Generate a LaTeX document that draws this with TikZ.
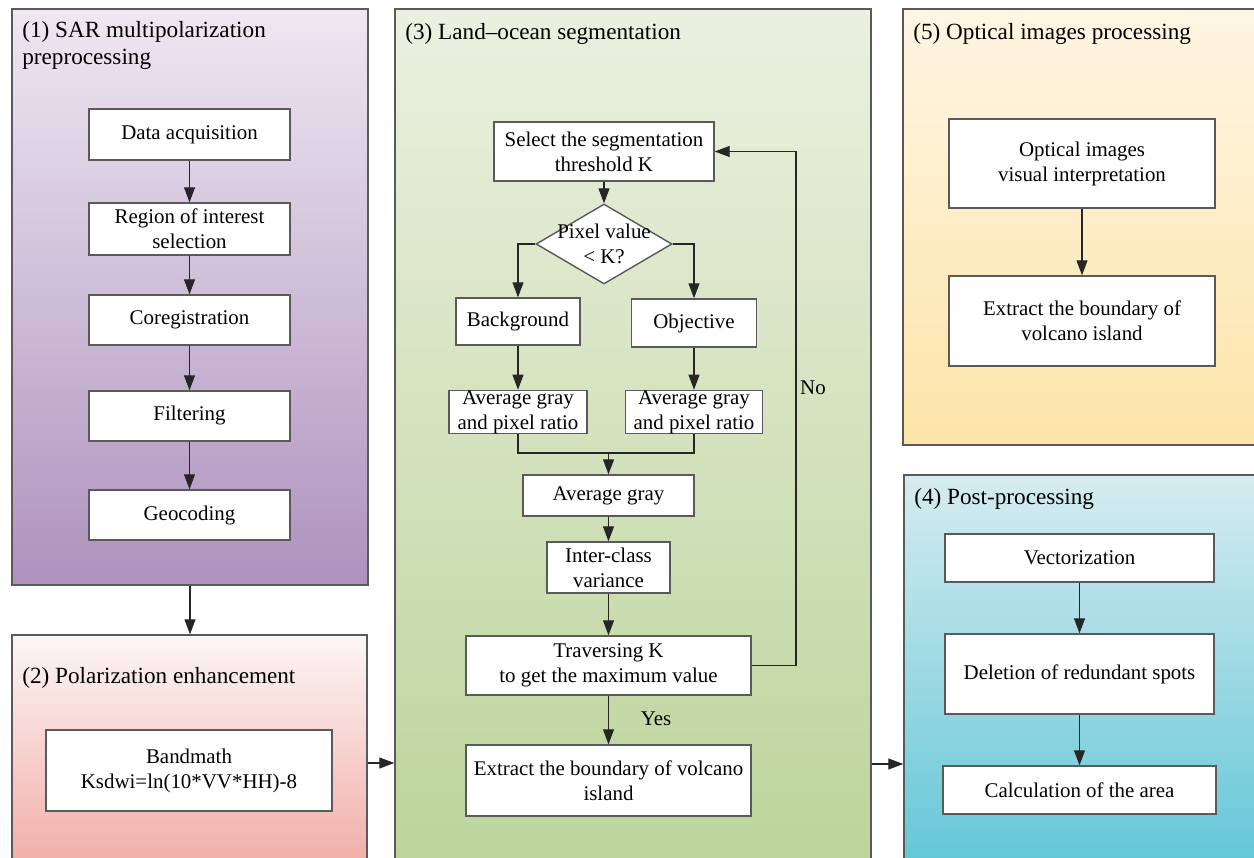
\documentclass[tikz,border=0pt]{standalone}
\usepackage{fontspec}
\setmainfont{Liberation Serif}
\usetikzlibrary{arrows.meta,shapes.geometric}
\definecolor{pOneT}{HTML}{EEE8F2}
\definecolor{pOneB}{HTML}{AE92BE}
\definecolor{pTwoT}{HTML}{FCF6F6}
\definecolor{pTwoB}{HTML}{F1ACA6}
\definecolor{pThrT}{HTML}{EBF0E0}
\definecolor{pThrB}{HTML}{BCD49B}
\definecolor{pFivT}{HTML}{FEF5E3}
\definecolor{pFivB}{HTML}{FDE4A8}
\definecolor{pFouT}{HTML}{D6ECF0}
\definecolor{pFouB}{HTML}{62C6D7}
\definecolor{edge}{HTML}{5A5A5A}
\def\px{0.02cm}
\tikzset{
  panel/.style={draw=edge, line width=0.8pt, inner sep=0pt},
  ptitle/.style={inner sep=0pt, font=\fontsize{13.2}{15.2}\selectfont, align=left},
  stepbox/.style={draw=edge, line width=0.8pt, fill=white, inner sep=0pt, align=center,
    font=\fontsize{11.9}{14.2}\selectfont},
  decbox/.style={draw=edge, line width=0.8pt, fill=white, diamond, inner sep=0pt},
  arr/.style={draw=black!85, line width=0.6pt, -{Triangle[length=0.3cm,width=0.22cm]}},
  ln/.style={draw=black!85, line width=0.6pt},
  lbl/.style={inner sep=0pt, font=\fontsize{11.9}{14.2}\selectfont}
}
\begin{document}
\begin{tikzpicture}[x=0.02cm,y=-0.02cm]
\useasboundingbox (0,0) rectangle (1254,858);
\clip (0,0) rectangle (1254,858);
\fill[white] (0,0) rectangle (1254,858);

% panels
\node[panel, top color=pOneT, bottom color=pOneB, minimum width=356*\px, minimum height=576*\px] (p1) at (190,297) {};
\node[panel, top color=pTwoT, bottom color=pTwoB, minimum width=355*\px, minimum height=235*\px] (p2) at (189.5,752.5) {};
\node[panel, top color=pThrT, bottom color=pThrB, minimum width=476*\px, minimum height=861*\px] (p3) at (633,439.5) {};
\node[panel, top color=pFivT, bottom color=pFivB, minimum width=362*\px, minimum height=436*\px] (p5) at (1084,227) {};
\node[panel, top color=pFouT, bottom color=pFouB, minimum width=361*\px, minimum height=395*\px] (p4) at (1084.5,672.5) {};

% titles
\node[ptitle, anchor=north west] (t1) at (22,21) {(1) SAR multipolarization\\preprocessing};
\node[ptitle, anchor=base west] (t2) at (22,683) {(2) Polarization enhancement};
\node[ptitle, anchor=base west] (t3) at (405,40) {(3) Land--ocean segmentation};
\node[ptitle, anchor=base west] (t5) at (913,40) {(5) Optical images processing};
\node[ptitle, anchor=base west] (t4) at (914,504) {(4) Post-processing};

% panel 1
\node[stepbox, minimum width=201*\px, minimum height=51*\px] (da) at (189.5,134.5) {Data acquisition};
\node[stepbox, minimum width=201*\px, minimum height=52*\px] (roi) at (189.5,229) {Region of interest\\selection};
\node[stepbox, minimum width=201*\px, minimum height=50*\px] (cor) at (189.5,320) {Coregistration};
\node[stepbox, minimum width=201*\px, minimum height=50*\px] (fil) at (189.5,416) {Filtering};
\node[stepbox, minimum width=201*\px, minimum height=50*\px] (geo) at (189.5,515) {Geocoding};
\draw[arr] (da) -- (roi);
\draw[arr] (roi) -- (cor);
\draw[arr] (cor) -- (fil);
\draw[arr] (fil) -- (geo);

% panel 2
\node[stepbox, minimum width=286*\px, minimum height=81*\px] (bm) at (189,770.5) {Bandmath\\Ksdwi=ln(10*VV*HH)-8};

% panel 3
\node[stepbox, minimum width=220*\px, minimum height=59*\px] (sel) at (604,151.5) {Select the segmentation\\threshold K};
\node[decbox, minimum width=136*\px, minimum height=80*\px,
  label={[lbl, align=center]center:Pixel value\\< K?}] (dia) at (604,244) {};
\node[stepbox, minimum width=124*\px, minimum height=47*\px] (bg) at (518,321.5) {Background};
\node[stepbox, minimum width=125*\px, minimum height=48*\px] (obj) at (694,323) {Objective};
\node[stepbox, minimum width=138*\px, minimum height=42*\px] (avgL) at (518,412) {Average gray\\and pixel ratio};
\node[stepbox, minimum width=137*\px, minimum height=42*\px] (avgR) at (694,412) {Average gray\\and pixel ratio};
\node[stepbox, minimum width=171*\px, minimum height=41*\px] (avg) at (608.5,495.5) {Average gray};
\node[stepbox, minimum width=123*\px, minimum height=51*\px] (icv) at (608.5,567.5) {Inter-class\\variance};
\node[stepbox, minimum width=285*\px, minimum height=59*\px] (trav) at (608.5,665.5) {Traversing K\\to get the maximum value};
\node[stepbox, minimum width=285*\px, minimum height=71*\px] (ext) at (608.5,780.5) {Extract the boundary of volcano\\island};
\coordinate (m) at (608.5,453);
\coordinate (nc) at (796,151.5);
\draw[arr] (sel) -- (dia);
\draw[arr] (dia.west) -| (bg.north);
\draw[arr] (dia.east) -| (obj.north);
\draw[arr] (bg) -- (avgL);
\draw[arr] (obj) -- (avgR);
\draw[ln] (avgL.south) |- (m);
\draw[ln] (avgR.south) |- (m);
\draw[arr] (m) -- (avg);
\draw[arr] (avg) -- (icv);
\draw[arr] (icv) -- (trav);
\draw[arr] (trav) -- (ext);
\draw[arr] (trav.east) -| (nc) -- (sel.east);
\node[lbl] (yes) at (656,719) {Yes};
\node[lbl] (no) at (813,388) {No};

% panel 5
\node[stepbox, minimum width=266*\px, minimum height=89*\px] (opt) at (1082,163.5) {Optical images\\visual interpretation};
\node[stepbox, minimum width=266*\px, minimum height=90*\px] (ext5) at (1082,321) {Extract the boundary of\\volcano island};
\draw[arr] (opt) -- (ext5);

% panel 4
\node[stepbox, minimum width=269*\px, minimum height=48*\px] (vec) at (1079.5,558) {Vectorization};
\node[stepbox, minimum width=269*\px, minimum height=80*\px] (del) at (1079.5,674) {Deletion of redundant spots};
\node[stepbox, minimum width=273*\px, minimum height=48*\px] (calc) at (1079.5,790) {Calculation of the area};
\draw[arr] (vec) -- (del);
\draw[arr] (del) -- (calc);

% panel connectors
\coordinate (yA) at (0,763);
\coordinate (yB) at (0,764);
\draw[arr] (p1.south) -- (p1.south |- p2.north);
\draw[arr] (p2.east |- yA) -- (p3.west |- yA);
\draw[arr] (p3.east |- yB) -- (p4.west |- yB);
\end{tikzpicture}
\end{document}
